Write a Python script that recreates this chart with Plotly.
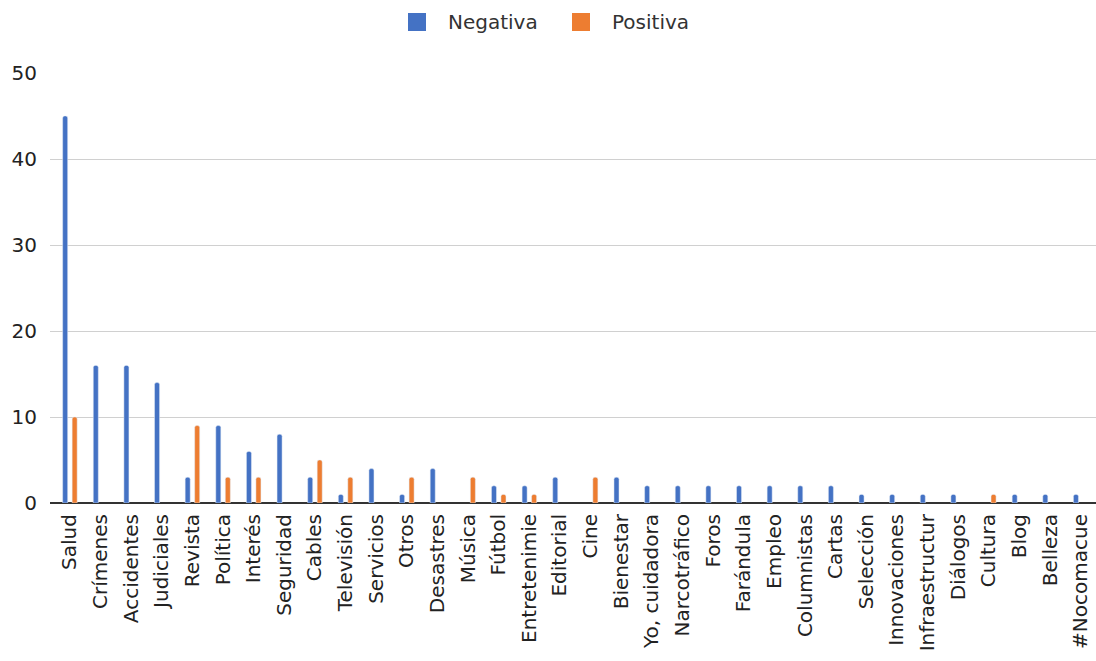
import plotly.graph_objects as go

categories = ["Salud", "Crímenes", "Accidentes", "Judiciales", "Revista", "Política", "Interés",
              "Seguridad", "Cables", "Televisión", "Servicios", "Otros", "Desastres", "Música",
              "Fútbol", "Entretenimie", "Editorial", "Cine", "Bienestar", "Yo, cuidadora",
              "Narcotráfico", "Foros", "Farándula", "Empleo", "Columnistas", "Cartas", "Selección",
              "Innovaciones", "Infraestructur", "Diálogos", "Cultura", "Blog", "Belleza", "#Nocomacue"]
negativa = [45, 16, 16, 14, 3, 9, 6, 8, 3, 1, 4, 1, 4, 0, 2, 2, 3, 0, 3, 2,
            2, 2, 2, 2, 2, 2, 1, 1, 1, 1, 0, 1, 1, 1]
positiva = [10, 0, 0, 0, 9, 3, 3, 0, 5, 3, 0, 3, 0, 3, 1, 1, 0, 3, 0, 0,
            0, 0, 0, 0, 0, 0, 0, 0, 0, 0, 1, 0, 0, 0]
y_ticks = [0, 10, 20, 30, 40, 50]
series_names = ["Negativa", "Positiva"]
colors = ["#4472c4", "#ed7d31"]

FONT = "DejaVu Sans, Arial, sans-serif"
W, H = 1096, 661
ML, MR, MT, MB = 50, 0, 73, 158
PW, PH = W - ML - MR, H - MT - MB


def px_x(px):
    return (px - ML) / PW


def px_y(py):
    return (H - MB - py) / PH


fig = go.Figure()
for name, vals, col in zip(series_names, [negativa, positiva], colors):
    fig.add_trace(go.Bar(x=categories, y=[v if v else None for v in vals], name=name,
                         marker_color=col, showlegend=False))

# custom legend (large rounded swatches) at top center
legend_swatch_left = [408, 572]
for name, col, left in zip(series_names, colors, legend_swatch_left):
    fig.add_shape(type="rect", xref="paper", yref="paper",
                  x0=px_x(left), x1=px_x(left + 18), y0=px_y(31), y1=px_y(13),
                  fillcolor=col, line=dict(width=0), layer="above")
    fig.add_annotation(xref="paper", yref="paper", x=px_x(left + 38), y=px_y(22),
                       text=name, showarrow=False, xanchor="left", yanchor="middle",
                       font=dict(family=FONT, size=20, color="#333333"))

fig.update_layout(
    width=W, height=H,
    margin=dict(l=ML, r=MR, t=MT, b=MB),
    paper_bgcolor="white", plot_bgcolor="white",
    barmode="group", bargap=0.38, bargroupgap=0.47, barcornerradius=2,
    font=dict(family=FONT, size=20, color="#222222"),
    showlegend=False,
)
fig.update_xaxes(tickangle=-90, showgrid=False, ticks="", tickfont=dict(size=20),
                 showline=False, range=[-0.65, 33.5], ticklabelstandoff=6, automargin=False)
fig.update_yaxes(range=[0, 50], tickvals=y_ticks, showgrid=True, gridcolor="#d0d0d0",
                 gridwidth=1, zeroline=True, zerolinecolor="#333333", zerolinewidth=2,
                 ticks="", ticklabelstandoff=12, tickfont=dict(size=20), automargin=False)

fig.write_html("out.html")
